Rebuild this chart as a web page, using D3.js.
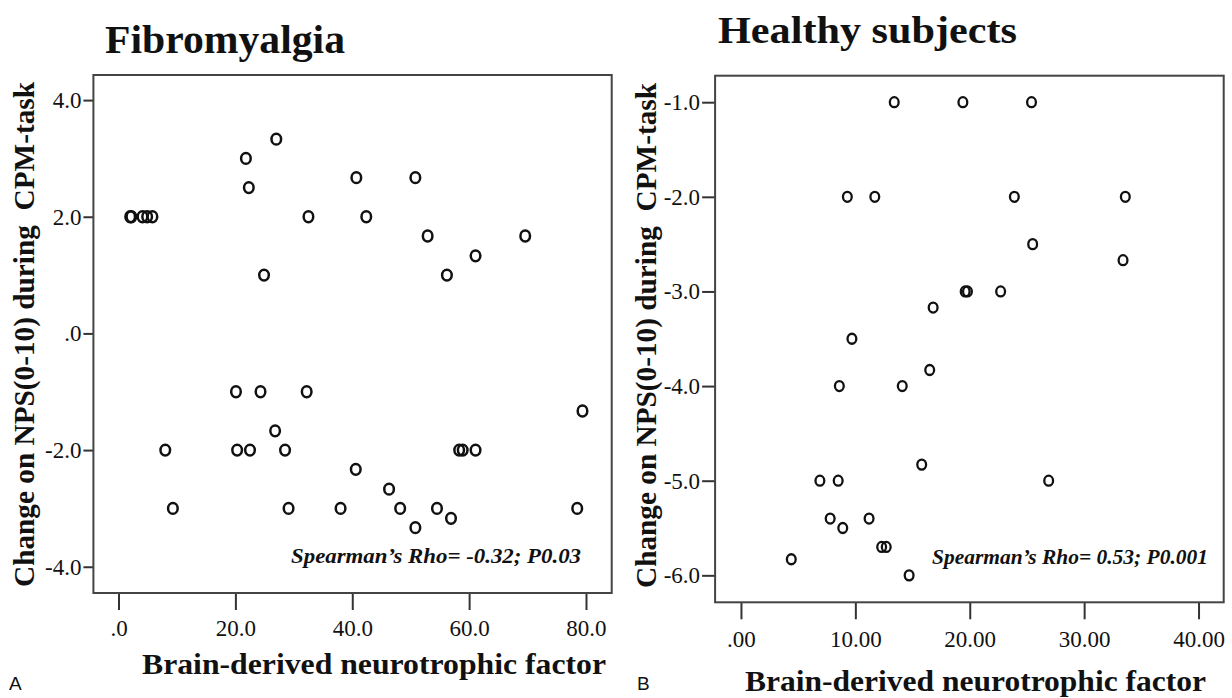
<!DOCTYPE html>
<html>
<head>
<meta charset="utf-8">
<script src="https://cdn.jsdelivr.net/npm/d3@7"></script>
<style>
  html, body { margin: 0; padding: 0; background: #fff; }
  svg text { font-family: "Liberation Serif", "Times New Roman", serif; fill: #111; }
  svg text.letter { font-family: "Liberation Sans", Arial, sans-serif; }
</style>
</head>
<body>
<div id="chart"></div>
<script>
// Fibromyalgia: BDNF vs change in NPS
const fmX = [2.0, 2.2, 4.1, 4.9, 5.8, 21.8, 22.3, 24.9, 27.0, 32.5, 40.7, 42.4, 50.8, 52.9, 56.2, 61.1, 69.6,
  20.1, 24.3, 32.2, 79.4, 26.8, 8.0, 20.3, 22.5, 28.5, 58.3, 58.9, 61.1, 40.6, 46.3,
  9.3, 29.1, 38.0, 48.2, 54.5, 56.9, 50.8, 78.5];
const fmY = [2, 2, 2, 2, 2, 3, 2.5, 1, 3.33, 2, 2.67, 2, 2.67, 1.67, 1, 1.33, 1.67,
  -1, -1, -1, -1.33, -1.67, -2, -2, -2, -2, -2, -2, -2, -2.33, -2.67,
  -3, -3, -3, -3, -3, -3.17, -3.33, -3];

// Healthy subjects
const hsX = [13.4, 19.4, 25.4, 9.3, 11.7, 23.9, 33.6, 25.5, 33.4, 19.6, 19.8, 22.7, 16.8, 9.7,
  16.5, 8.6, 14.1, 15.8, 6.9, 8.5, 26.9, 7.8, 11.2, 8.9, 12.3, 12.7, 4.4, 14.7];
const hsY = [-1, -1, -1, -2, -2, -2, -2, -2.5, -2.67, -3, -3, -3, -3.17, -3.5,
  -3.83, -4, -4, -4.83, -5, -5, -5, -5.4, -5.4, -5.5, -5.7, -5.7, -5.83, -6];

const fmXTicks = [0, 20, 40, 60, 80];
const fmYTicks = [4, 2, 0, -2, -4];
const hsXTicks = [0, 10, 20, 30, 40];
const hsYTicks = [-1, -2, -3, -4, -5, -6];

const yTitle = "Change on NPS(0-10) during\u00a0\u00a0CPM-task";
const xTitle = "Brain-derived neurotrophic factor";

// SPSS style numbers: 0 -> ".0"
const spss = digits => v => v.toFixed(digits).replace(/^0\./, ".");

const W = 1232, H = 698;
const svg = d3.select("#chart").append("svg")
  .attr("width", W).attr("height", H);

function panel(p) {
  const x = d3.scaleLinear().domain(p.xDomain).range([p.left, p.right]);
  const y = d3.scaleLinear().domain(p.yDomain).range([p.bottom, p.top]);
  const g = svg.append("g");

  // x axis ticks hang below the frame
  const xa = g.append("g")
    .attr("transform", `translate(0,${p.bottom})`)
    .call(d3.axisBottom(x).tickValues(p.xTicks).tickSize(17).tickPadding(p.xPad)
      .tickFormat(spss(p.xDigits)));
  const ya = g.append("g")
    .attr("transform", `translate(${p.left},0)`)
    .call(d3.axisLeft(y).tickValues(p.yTicks).tickSize(p.yTick).tickPadding(p.yPad)
      .tickFormat(spss(1)));
  [xa, ya].forEach(a => {
    a.attr("font-family", null).attr("font-size", null);
    a.select(".domain").remove();
    a.selectAll("line").attr("stroke", "#333").attr("stroke-width", 2);
    a.selectAll("text").attr("font-size", 23).attr("fill", "#111");
  });

  // frame
  g.append("rect")
    .attr("x", p.left).attr("y", p.top)
    .attr("width", p.right - p.left).attr("height", p.bottom - p.top)
    .attr("fill", "none").attr("stroke", "#444").attr("stroke-width", 2);

  // points
  g.append("g").selectAll("ellipse")
    .data(p.xs.map((v, i) => [v, p.ys[i]]))
    .join("ellipse")
    .attr("cx", d => x(d[0]))
    .attr("cy", d => y(d[1]))
    .attr("rx", p.r)
    .attr("ry", p.r + 0.6)
    .attr("fill", "none")
    .attr("stroke", "#111")
    .attr("stroke-width", p.sw);

  // title
  g.append("text")
    .attr("x", p.titleX).attr("y", p.titleY)
    .attr("font-size", p.titleSize).attr("font-weight", "bold")
    .attr("textLength", p.titleLen).attr("lengthAdjust", "spacingAndGlyphs")
    .text(p.title);

  // y title
  g.append("text")
    .attr("transform", `translate(${p.yTitleX},${p.yTitleY}) rotate(-90)`)
    .attr("text-anchor", "middle")
    .attr("font-size", 30).attr("font-weight", "bold")
    .attr("textLength", 505).attr("lengthAdjust", "spacingAndGlyphs")
    .text(yTitle);

  // x title
  g.append("text")
    .attr("x", p.xTitleX).attr("y", p.xTitleY)
    .attr("font-size", 30).attr("font-weight", "bold")
    .attr("textLength", p.xTitleLen).attr("lengthAdjust", "spacingAndGlyphs")
    .text(xTitle);

  // correlation note
  g.append("text")
    .attr("x", p.noteX).attr("y", p.noteY)
    .attr("font-size", 22).attr("font-weight", "bold").attr("font-style", "italic")
    .attr("textLength", p.noteLen).attr("lengthAdjust", "spacingAndGlyphs")
    .text(p.note);

  // panel letter
  g.append("text")
    .attr("class", "letter")
    .attr("x", p.letterX).attr("y", 690)
    .attr("font-size", 19)
    .text(p.letter);
}

panel({
  xs: fmX, ys: fmY, xTicks: fmXTicks, yTicks: fmYTicks,
  xDomain: [-4.3, 84.4], yDomain: [-4.45, 4.43],
  left: 93.4, right: 611.7, top: 75, bottom: 593,
  xDigits: 1, xPad: 10, yTick: 10, yPad: 2,
  r: 4.8, sw: 2.5,
  title: "Fibromyalgia", titleX: 105, titleY: 53, titleSize: 40, titleLen: 240,
  yTitleX: 34, yTitleY: 334.5,
  xTitleX: 142, xTitleY: 674, xTitleLen: 464,
  note: "Spearman\u2019s Rho= -0.32; P0.03", noteX: 291, noteY: 562.5, noteLen: 290,
  letter: "A", letterX: 9
});

panel({
  xs: hsX, ys: hsY, xTicks: hsXTicks, yTicks: hsYTicks,
  xDomain: [-2.26, 42.2], yDomain: [-6.285, -0.72],
  left: 715.1, right: 1223.7, top: 75.7, bottom: 602.3,
  xDigits: 2, xPad: 11, yTick: 13, yPad: 2,
  r: 4.4, sw: 2.3,
  title: "Healthy subjects", titleX: 718, titleY: 43, titleSize: 37, titleLen: 299,
  yTitleX: 656, yTitleY: 335.5,
  xTitleX: 745, xTitleY: 691, xTitleLen: 461,
  note: "Spearman\u2019s Rho= 0.53; P0.001", noteX: 932, noteY: 564, noteLen: 276,
  letter: "B", letterX: 637
});
</script>
</body>
</html>
